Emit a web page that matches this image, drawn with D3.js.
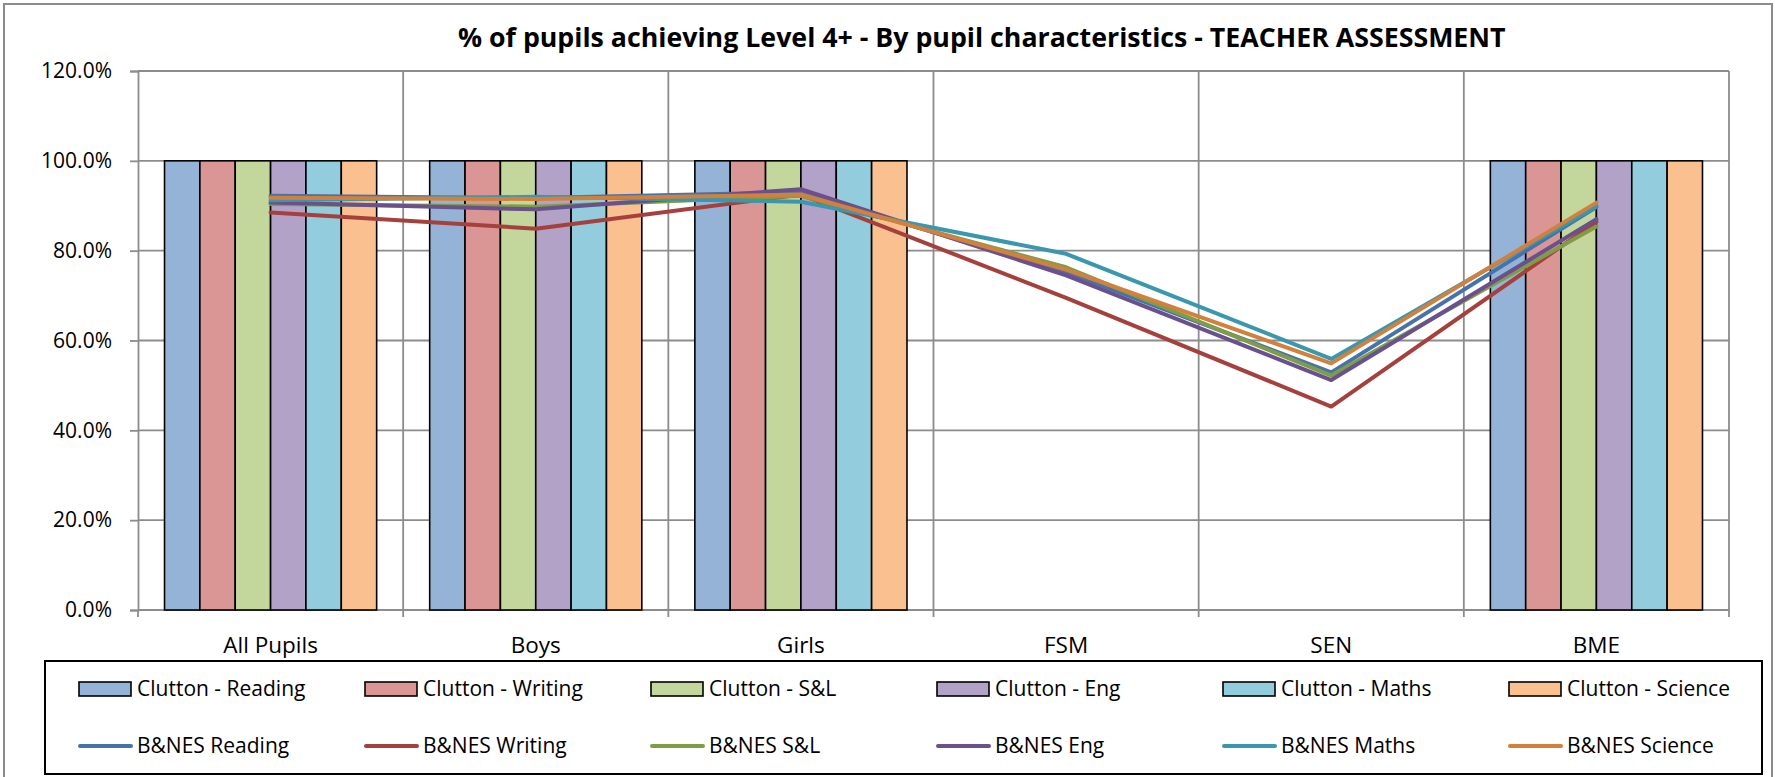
<!DOCTYPE html>
<html>
<head>
<meta charset="utf-8">
<script src="https://cdnjs.cloudflare.com/ajax/libs/d3/7.8.5/d3.min.js"></script>
<style>
  body { margin: 0; background: #fff; }
  text { font-family: "Open Sans", sans-serif; fill: #000; }
</style>
</head>
<body>
<script>
// categories + series
var categories = ["All Pupils", "Boys", "Girls", "FSM", "SEN", "BME"];
var barSeries = ["Clutton - Reading", "Clutton - Writing", "Clutton - S&L",
                 "Clutton - Eng", "Clutton - Maths", "Clutton - Science"];
var lineSeries = ["B&NES Reading", "B&NES Writing", "B&NES S&L",
                  "B&NES Eng", "B&NES Maths", "B&NES Science"];

// Clutton (bars), % -- no value for FSM / SEN
var cluttonReading = [100, 100, 100, null, null, 100];
var cluttonWriting = [100, 100, 100, null, null, 100];
var cluttonSL      = [100, 100, 100, null, null, 100];
var cluttonEng     = [100, 100, 100, null, null, 100];
var cluttonMaths   = [100, 100, 100, null, null, 100];
var cluttonScience = [100, 100, 100, null, null, 100];

// B&NES (lines), %
var bnesReading = [92.2, 91.7, 93.0, 75.2, 52.9, 89.7];
var bnesWriting = [88.5, 84.9, 92.5, 69.5, 45.3, 86.4];
var bnesSL      = [90.4, 89.8, 92.2, 76.3, 52.2, 85.4];
var bnesEng     = [90.7, 89.2, 93.7, 74.5, 51.2, 87.0];
var bnesMaths   = [91.2, 92.0, 90.9, 79.3, 55.9, 89.9];
var bnesScience = [91.8, 91.5, 92.5, 75.8, 54.9, 90.7];

var yTicks = [0, 20, 40, 60, 80, 100, 120];

var barValues = [cluttonReading, cluttonWriting, cluttonSL, cluttonEng, cluttonMaths, cluttonScience];
var lineValues = [bnesReading, bnesWriting, bnesSL, bnesEng, bnesMaths, bnesScience];

var colors = {
  bars:  ["#95b3d7", "#d99694", "#c3d69b", "#b3a2c7", "#93cddd", "#fac090"],
  lines: ["#4674aa", "#a5413d", "#7f9d46", "#6a508d", "#3a97ae", "#d2803b"],
  grid: "#8c8c8c"
};

var width = 1775;
var height = 777;
var plot = {left: 138, right: 1729, top: 71, bottom: 610};

// scales
var x = d3.scaleBand()
  .domain(categories)
  .range([plot.left, plot.right])
  .paddingInner(0.2)
  .paddingOuter(0.1);

var xSub = d3.scaleBand()
  .domain(barSeries)
  .range([0, x.bandwidth()]);

var xEdge = d3.scaleLinear()
  .domain([0, categories.length])
  .range([plot.left, plot.right]);

var y = d3.scaleLinear()
  .domain([0, 120])
  .range([plot.bottom, plot.top]);

var svg = d3.select("body")
  .append("svg")
  .attr("width", width)
  .attr("height", height);

svg.append("rect")
  .attr("x", 0).attr("y", 0)
  .attr("width", width).attr("height", height)
  .style("fill", "#fff");

// chart border
svg.append("rect")
  .attr("x", 4).attr("y", 4)
  .attr("width", 1768).attr("height", 800)
  .style("fill", "none")
  .style("stroke", "#8c8c8c")
  .style("stroke-width", 2);

// title
var title = svg.append("text")
  .attr("x", 458)
  .attr("y", 47)
  .style("font-weight", "bold")
  .style("font-size", "24px")
  .text("% of pupils achieving Level 4+ - By pupil characteristics - TEACHER ASSESSMENT");
var tw = title.node().getComputedTextLength();
title.style("font-size", (24 * 1048 / tw) + "px");

/* grid */
svg.append("g")
  .selectAll("line")
  .data(yTicks.filter(d => d > 0))
  .enter()
  .append("line")
  .attr("x1", plot.left).attr("x2", plot.right)
  .attr("y1", d => y(d)).attr("y2", d => y(d))
  .style("stroke", colors.grid)
  .style("stroke-width", 1.8);

svg.append("g")
  .selectAll("line")
  .data(d3.range(1, categories.length + 1))
  .enter()
  .append("line")
  .attr("x1", d => xEdge(d)).attr("x2", d => xEdge(d))
  .attr("y1", plot.top).attr("y2", plot.bottom)
  .style("stroke", colors.grid)
  .style("stroke-width", 1.8);

// axes
var yAxis = svg.append("g")
  .attr("transform", `translate(${plot.left},0)`)
  .call(d3.axisLeft(y)
    .tickValues(yTicks)
    .tickSize(8)
    .tickPadding(18)
    .tickFormat(d => d3.format(".1f")(d) + "%"));
yAxis.selectAll("line,path").style("stroke", colors.grid).style("stroke-width", 1.8);
yAxis.selectAll("text").style("font-size", "21px").style("font-family", "Open Sans");

var xAxis = svg.append("g")
  .attr("transform", `translate(0,${plot.bottom})`)
  .call(d3.axisBottom(x).tickSize(0))
  .call(g => g.select(".domain").remove());
xAxis.selectAll("text")
  .attr("y", 43)
  .attr("dy", 0)
  .style("font-size", "22.5px")
  .style("font-family", "Open Sans");

svg.append("g")
  .selectAll("line")
  .data(d3.range(0, categories.length + 1))
  .enter()
  .append("line")
  .attr("x1", d => xEdge(d)).attr("x2", d => xEdge(d))
  .attr("y1", plot.bottom).attr("y2", plot.bottom + 7)
  .style("stroke", colors.grid)
  .style("stroke-width", 1.8);

svg.append("line")
  .attr("x1", plot.left).attr("x2", plot.right)
  .attr("y1", plot.bottom).attr("y2", plot.bottom)
  .style("stroke", colors.grid)
  .style("stroke-width", 1.8);

/* bars */
var barData = [];
barValues.forEach(function(vals, s){
  vals.forEach(function(v, c){
    if(v !== null) barData.push({series: barSeries[s], si: s, cat: categories[c], value: v});
  });
});

svg.append("g")
  .selectAll("rect")
  .data(barData)
  .enter()
  .append("rect")
  .attr("x", d => x(d.cat) + xSub(d.series))
  .attr("y", d => y(d.value))
  .attr("width", xSub.bandwidth())
  .attr("height", d => y(0) - y(d.value))
  .style("fill", d => colors.bars[d.si])
  .style("stroke", "#000")
  .style("stroke-width", 1.6);

/* lines */
var line = d3.line()
  .x((d, i) => x(categories[i]) + x.bandwidth() / 2)
  .y(d => y(d));

svg.append("g")
  .selectAll("path")
  .data(lineValues)
  .enter()
  .append("path")
  .attr("d", d => line(d))
  .style("fill", "none")
  .style("stroke", (d, i) => colors.lines[i])
  .style("stroke-width", 4)
  .style("stroke-linejoin", "round")
  .style("stroke-linecap", "round");

/* legend */
var legend = svg.append("g");
legend.append("rect")
  .attr("x", 45).attr("y", 661)
  .attr("width", 1717).attr("height", 113)
  .style("fill", "#fff")
  .style("stroke", "#000")
  .style("stroke-width", 2);

var itemX = d => 79 + d * 286;

legend.selectAll(".barkey")
  .data(barSeries)
  .enter()
  .append("rect")
  .attr("x", (d, i) => itemX(i))
  .attr("y", 682)
  .attr("width", 52)
  .attr("height", 14)
  .style("fill", (d, i) => colors.bars[i])
  .style("stroke", "#000")
  .style("stroke-width", 1.6);

legend.selectAll(".bartext")
  .data(barSeries)
  .enter()
  .append("text")
  .attr("x", (d, i) => itemX(i) + 58)
  .attr("y", 696)
  .style("font-size", "21px")
  .text(d => d);

legend.selectAll(".linekey")
  .data(lineSeries)
  .enter()
  .append("line")
  .attr("x1", (d, i) => itemX(i) + 1)
  .attr("x2", (d, i) => itemX(i) + 52)
  .attr("y1", 746).attr("y2", 746)
  .style("stroke", (d, i) => colors.lines[i])
  .style("stroke-width", 4)
  .style("stroke-linecap", "round");

legend.selectAll(".linetext")
  .data(lineSeries)
  .enter()
  .append("text")
  .attr("x", (d, i) => itemX(i) + 58)
  .attr("y", 753)
  .style("font-size", "21px")
  .text(d => d);
</script>
</body>
</html>
